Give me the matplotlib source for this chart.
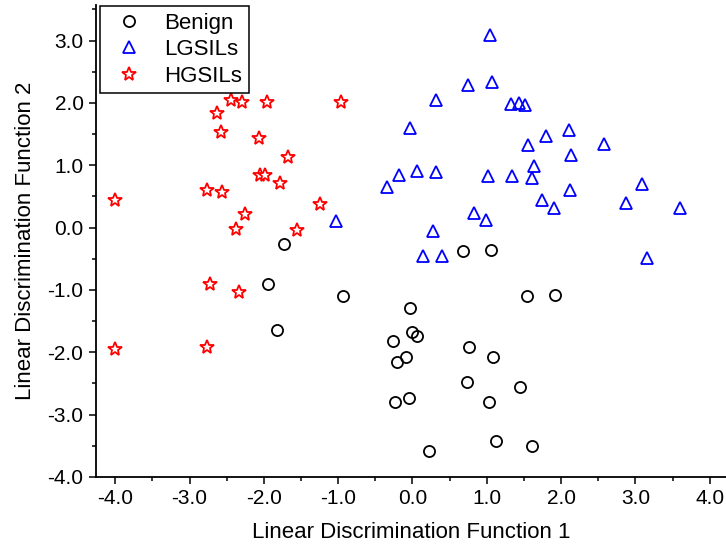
import matplotlib
matplotlib.use('Agg')
import matplotlib.pyplot as plt
from matplotlib.ticker import MultipleLocator, FormatStrFormatter

# values
benign_x = [-1.73, -1.95, -0.94, -1.82, 0.68, 1.06, 1.54, 1.92, -0.03, 0.00, 0.06,
            -0.26, 0.76, -0.09, 1.08, -0.21, 0.73, 1.45, -0.23, -0.05, 1.03, 1.12,
            1.61, 0.22]
benign_y = [-0.27, -0.90, -1.10, -1.65, -0.37, -0.36, -1.10, -1.08, -1.29, -1.67, -1.74,
            -1.82, -1.91, -2.07, -2.07, -2.16, -2.48, -2.56, -2.79, -2.73, -2.79, -3.42,
            -3.50, -3.58]

lgsil_x = [1.05, 0.75, 1.07, 0.32, 1.33, 1.44, 1.51, -0.03, 2.10, 1.80, 2.58, 1.55,
           2.14, 1.64, -0.18, 0.06, 0.31, 1.02, 1.34, 1.61, -0.34, 3.09, 2.12, 1.75,
           2.88, 1.91, 3.60, 0.83, 0.99, 0.27, 0.14, 0.40, 3.16, -1.03]
lgsil_y = [3.09, 2.28, 2.33, 2.05, 1.99, 2.00, 1.96, 1.59, 1.57, 1.47, 1.34, 1.32,
           1.17, 0.99, 0.85, 0.91, 0.89, 0.83, 0.82, 0.80, 0.65, 0.70, 0.60, 0.44,
           0.39, 0.32, 0.31, 0.24, 0.12, -0.06, -0.46, -0.45, -0.48, 0.10]

hgsil_x = [-2.44, -2.29, -1.96, -0.96, -2.63, -2.58, -2.07, -1.67, -2.05, -1.99, -1.78,
           -2.77, -2.56, -4.01, -1.25, -2.26, -2.37, -1.56, -2.73, -2.34, -4.01, -2.77]
hgsil_y = [2.05, 2.01, 2.02, 2.01, 1.83, 1.54, 1.44, 1.13, 0.84, 0.85, 0.72,
           0.61, 0.57, 0.45, 0.38, 0.22, -0.02, -0.04, -0.91, -1.04, -1.95, -1.91]

plt.rcParams['font.family'] = ['Liberation Sans', 'DejaVu Sans']

fig = plt.figure(figsize=(7.26, 5.6), dpi=100)
ax = fig.add_axes([96 / 726, 83 / 560, 1 - 96 / 726, (477 - 5) / 560])

ax.plot(benign_x, benign_y, 'o', ls='none', ms=8, mfc='none', mec='black', mew=1.3,
        label='Benign')
ax.plot(lgsil_x, lgsil_y, '^', ls='none', ms=8.5, mfc='none', mec='blue', mew=1.3,
        label='LGSILs')
ax.plot(hgsil_x, hgsil_y, '*', ls='none', ms=10.5, mfc='white', mec='red', mew=1.3,
        label='HGSILs')

ax.set_xlim(-4.26, 4.22)
ax.set_ylim(-4.0, 3.57)
ax.xaxis.set_major_locator(MultipleLocator(1.0))
ax.xaxis.set_minor_locator(MultipleLocator(0.5))
ax.yaxis.set_major_locator(MultipleLocator(1.0))
ax.yaxis.set_minor_locator(MultipleLocator(0.5))
ax.xaxis.set_major_formatter(FormatStrFormatter('%.1f'))
ax.yaxis.set_major_formatter(FormatStrFormatter('%.1f'))

for s in ['top', 'right']:
    ax.spines[s].set_visible(False)
for s in ['left', 'bottom']:
    ax.spines[s].set_linewidth(1.3)

ax.tick_params(which='major', direction='out', length=5, width=1.1, labelsize=15, pad=4)
ax.tick_params(which='minor', direction='out', length=3, width=1.1)

ax.set_xlabel('Linear Discrimination Function 1', fontsize=16, labelpad=10)
ax.set_ylabel('Linear Discrimination Function 2', fontsize=16, labelpad=8)

leg = ax.legend(loc='upper left', bbox_to_anchor=(0.006, 0.998), fontsize=16, frameon=True,
                fancybox=False, edgecolor='black', borderpad=0.3, labelspacing=0.25,
                handlelength=2.0, handletextpad=0.6, borderaxespad=0.0, framealpha=1)
leg.get_frame().set_linewidth(1.1)

fig.savefig('out.png', dpi=100)
